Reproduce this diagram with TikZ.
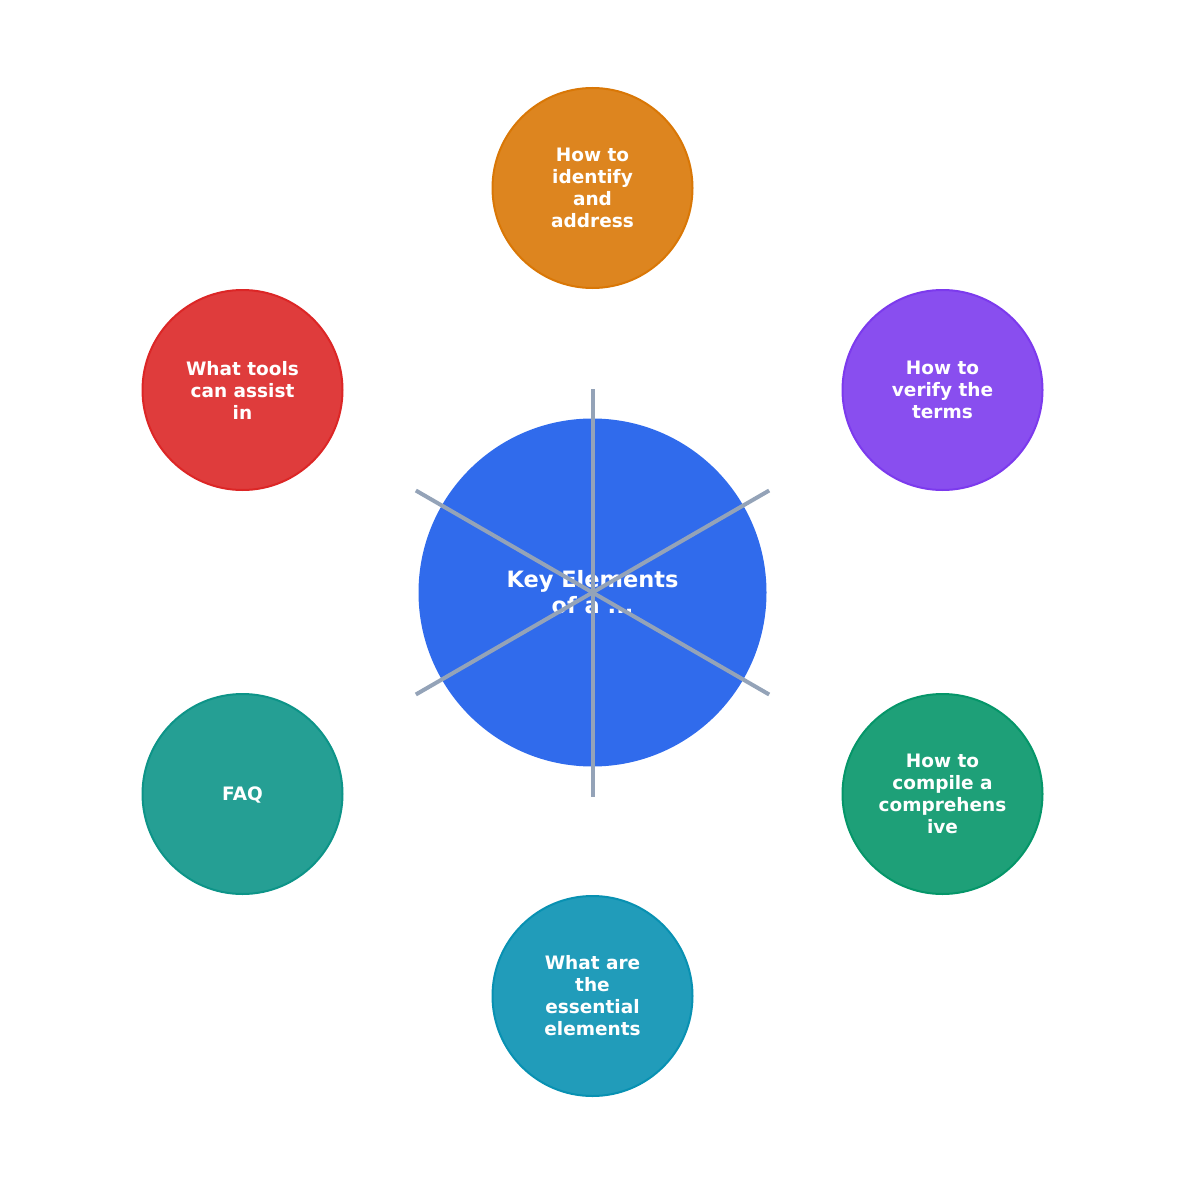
\documentclass[tikz,border=0pt]{standalone}
\usepackage{fontspec}
\setmainfont{DejaVu Sans}
\usetikzlibrary{calc}
\definecolor{cblue}{HTML}{2563EB}
\definecolor{corange}{HTML}{D97706}
\definecolor{cpurple}{HTML}{7C3AED}
\definecolor{cgreen}{HTML}{059669}
\definecolor{ccyan}{HTML}{0891B2}
\definecolor{cteal}{HTML}{0D9488}
\definecolor{cred}{HTML}{DC2626}
\definecolor{spoke}{HTML}{94A3B8}
\tikzset{
  leaf/.style={circle, minimum size=200pt, inner sep=0pt, line width=2pt,
    draw=#1, fill=#1!90!white, text=white, align=center,
    font=\fontsize{18.5}{22}\selectfont\bfseries},
  hub/.style={circle, minimum size=348pt, inner sep=0pt, fill=cblue!95!white,
    text=white, align=center, font=\fontsize{22.5}{26}\selectfont\bfseries},
  spokeline/.style={draw=spoke, line width=4pt}
}
\begin{document}
\begin{tikzpicture}[x=1pt,y=-1pt]
\useasboundingbox (0,0) rectangle (1185,1185);
\node[hub] (c) at (592.5,592.5) {Key Elements\\of a ...};
\foreach \a/\n in {90/s1,30/s2,-30/s3,-90/s4,-150/s5,150/s6}{
  \coordinate (\n) at ($(c.center)+(\a:204pt)$);
}
\foreach \n in {s1,s2,s3,s4,s5,s6}{
  \draw[spokeline] (c.center) -- (\n);
}
\node[leaf=corange] (n1) at (592.5,188) {How to\\identify\\and\\address};
\node[leaf=cpurple] (n2) at (942.5,390) {How to\\verify the\\terms};
\node[leaf=cgreen] (n3) at (942.5,794) {How to\\compile a\\comprehens\\ive};
\node[leaf=ccyan] (n4) at (592.5,996) {What are\\the\\essential\\elements};
\node[leaf=cteal, text height=16pt, text depth=2.5pt] (n5) at (242.5,794) {FAQ};
\node[leaf=cred] (n6) at (242.5,390) {What tools\\can assist\\in};
\end{tikzpicture}
\end{document}
